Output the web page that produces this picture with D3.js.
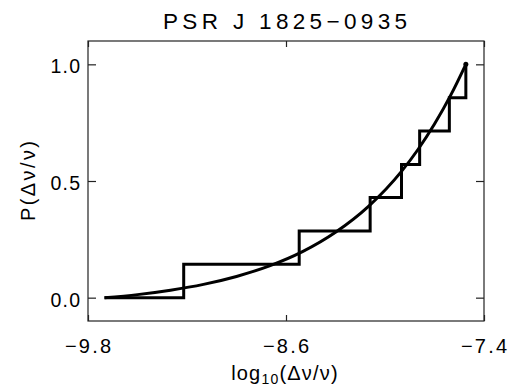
<!DOCTYPE html>
<html>
<head>
<meta charset="utf-8">
<script src="https://cdn.jsdelivr.net/npm/d3@7"></script>
<style>
  html, body { margin: 0; padding: 0; background: #fff; }
  svg { display: block; }
  text { font-family: "Liberation Sans", Arial, sans-serif; fill: #000; }
</style>
</head>
<body>
<svg id="chart" width="511" height="388"></svg>
<script>
// ---- data ----
const titleText = "PSR J 1825\u22120935";
const xTicks = [-9.8, -8.6, -7.4];
const xTickLabels = ["\u22129.8", "\u22128.6", "\u22127.4"];
const yTicks = [0.0, 0.5, 1.0];
const yTickLabels = ["0.0", "0.5", "1.0"];

// observed glitch sizes (log10 of dnu/nu) and cumulative probability
const glitchLog = [-9.70, -9.22, -8.52, -8.09, -7.90, -7.79, -7.61, -7.51];
const cumProb   = [0.000, 0.143, 0.286, 0.429, 0.571, 0.714, 0.857, 1.000];

// smooth model curve
const fitLog  = [-9.70, -9.50, -9.30, -9.10, -8.90, -8.70, -8.50, -8.30, -8.10, -7.90, -7.80, -7.70, -7.60, -7.51];
const fitProb = [0.000, 0.013, 0.032, 0.057, 0.091, 0.136, 0.197, 0.280, 0.391, 0.541, 0.635, 0.744, 0.870, 1.000];

// ---- layout ----
const svg = d3.select("#chart");
const L = 88, R = 484, T = 41, B = 321;
const x = d3.scaleLinear().domain([-9.8, -7.4]).range([L, R]);
const y = d3.scaleLinear().domain([-0.1, 1.1]).range([B, T]);

// frame
svg.append("rect")
  .attr("x", L).attr("y", T).attr("width", R - L).attr("height", B - T)
  .attr("fill", "none").attr("stroke", "#222").attr("stroke-width", 1.2);

// axes with inward ticks, labels drawn separately
const axisStyle = g => {
  g.select(".domain").remove();
  g.selectAll(".tick line").attr("stroke", "#222").attr("stroke-width", 1.2);
  g.selectAll(".tick text").remove();
};
svg.append("g").attr("transform", `translate(0,${B})`)
  .call(d3.axisTop(x).tickValues(xTicks).tickSize(6)).call(axisStyle);
svg.append("g").attr("transform", `translate(0,${T})`)
  .call(d3.axisBottom(x).tickValues(xTicks).tickSize(6)).call(axisStyle);
svg.append("g").attr("transform", `translate(${L},0)`)
  .call(d3.axisRight(y).tickValues(yTicks).tickSize(8)).call(axisStyle);
svg.append("g").attr("transform", `translate(${R},0)`)
  .call(d3.axisLeft(y).tickValues(yTicks).tickSize(8)).call(axisStyle);

// tick labels
svg.selectAll(".xl").data(xTicks).enter().append("text")
  .attr("x", (d) => x(d)).attr("y", 353)
  .attr("text-anchor", "middle").attr("font-size", 20)
  .attr("textLength", 46).attr("lengthAdjust", "spacing")
  .text((d, i) => xTickLabels[i]);
svg.selectAll(".yl").data(yTicks).enter().append("text")
  .attr("x", 80).attr("y", d => y(d) + 9)
  .attr("text-anchor", "end").attr("font-size", 19.5)
  .attr("textLength", 29.5).attr("lengthAdjust", "spacing")
  .text((d, i) => yTickLabels[i]);

// title
svg.append("text").attr("x", 285).attr("y", 28.5)
  .attr("text-anchor", "middle").attr("font-size", 22.5)
  .attr("textLength", 244).attr("lengthAdjust", "spacing")
  .text(titleText);

// x label
const xl = svg.append("text").attr("x", 285).attr("y", 380)
  .attr("text-anchor", "middle").attr("font-size", 20).attr("letter-spacing", 1.2);
xl.append("tspan").text("log");
xl.append("tspan").attr("font-size", 14).attr("dy", 4).text("10");
xl.append("tspan").attr("dy", -4).text("(\u0394\u03BD/\u03BD)");

// y label
svg.append("text")
  .attr("transform", "translate(35,181) rotate(-90)")
  .attr("text-anchor", "middle").attr("font-size", 20)
  .attr("textLength", 80).attr("lengthAdjust", "spacing")
  .text("P(\u0394\u03BD/\u03BD)");

// staircase
const steps = glitchLog.map((g, i) => [g, cumProb[i]]);
svg.append("path").datum(steps)
  .attr("fill", "none").attr("stroke", "#000").attr("stroke-width", 3)
  .attr("stroke-linejoin", "miter")
  .attr("d", d3.line().x(d => x(d[0])).y(d => y(d[1])).curve(d3.curveStepAfter));

// model curve
const fit = fitLog.map((g, i) => [g, fitProb[i]]);
svg.append("path").datum(fit)
  .attr("fill", "none").attr("stroke", "#000").attr("stroke-width", 3)
  .attr("d", d3.line().x(d => x(d[0])).y(d => y(d[1])).curve(d3.curveMonotoneX));

// end dot
const last = steps[steps.length - 1];
svg.append("circle").attr("cx", x(last[0])).attr("cy", y(last[1])).attr("r", 2.5).attr("fill", "#000");
</script>
</body>
</html>
